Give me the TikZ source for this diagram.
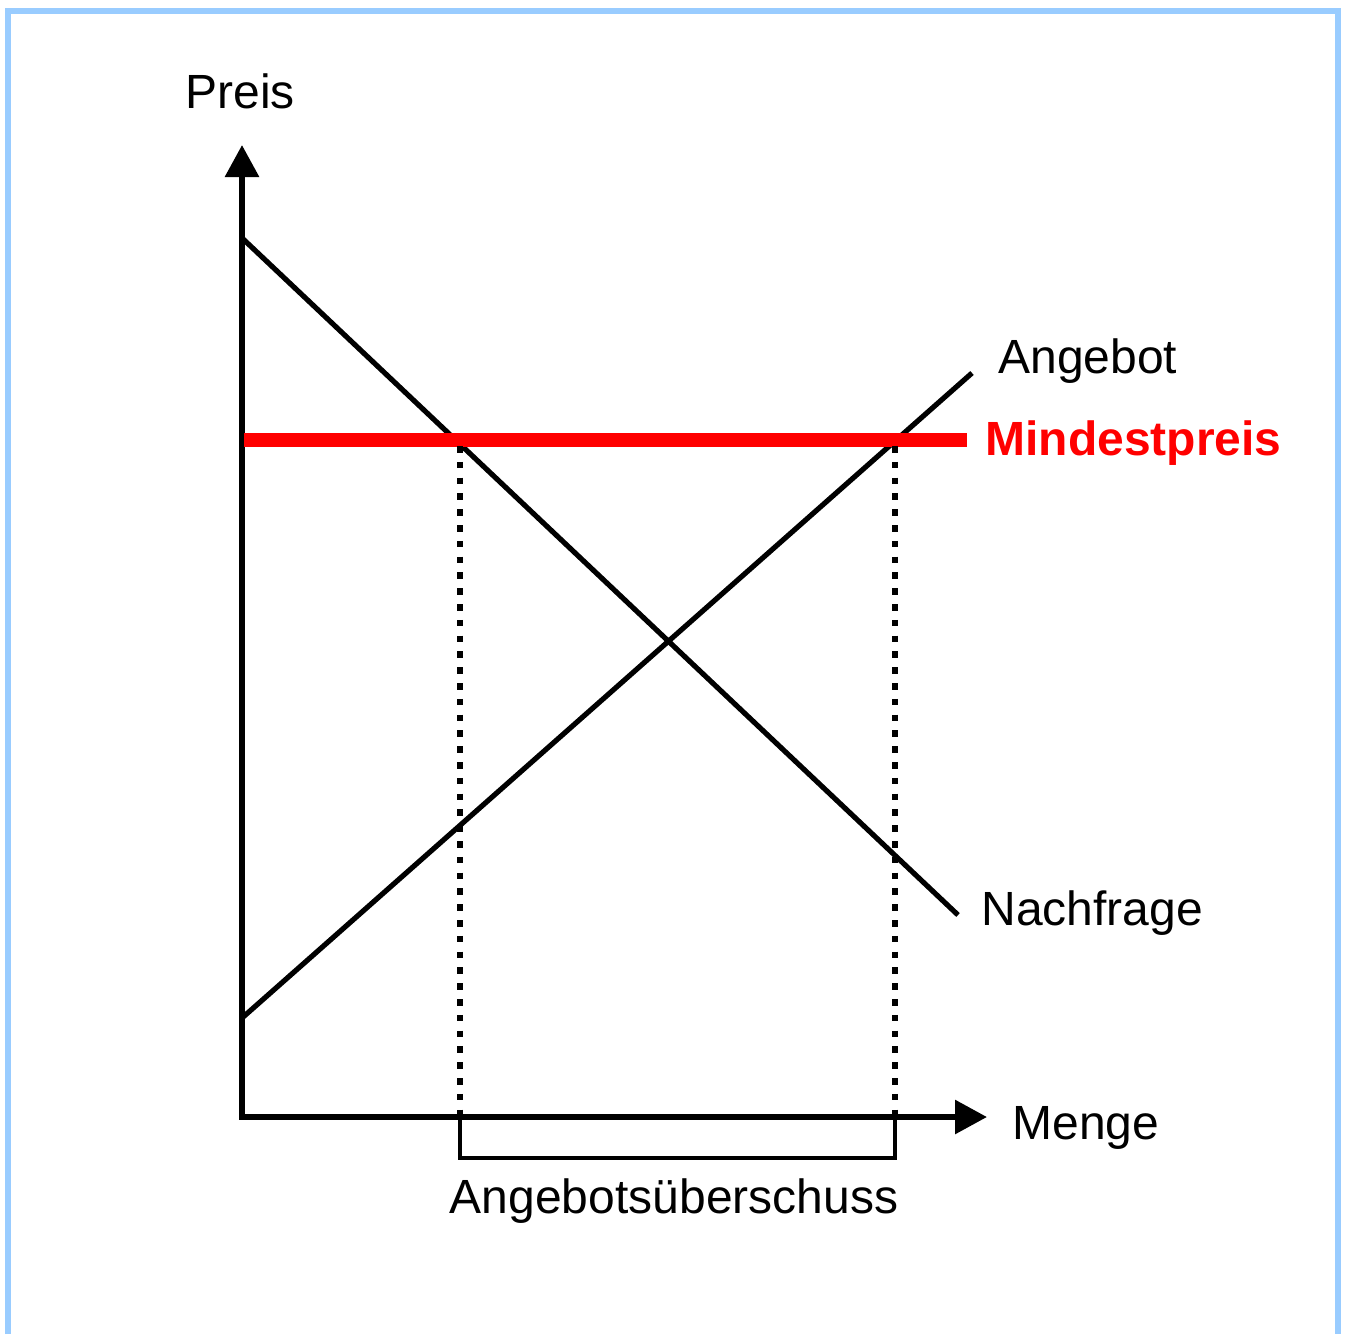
\documentclass[tikz,border=0pt]{standalone}
\usepackage{fontspec}
\setmainfont{Liberation Sans}
\usetikzlibrary{arrows.meta}
\definecolor{rahmenblau}{HTML}{99CCFF}
\definecolor{preisrot}{HTML}{FF0000}

\begin{document}
\begin{tikzpicture}[x=0.5pt, y=-0.5pt,
    achse/.style={line width=3pt,
      {Triangle[length=16pt,width=16.5pt]}-{Triangle[length=16pt,width=16.5pt]}},
    kurve/.style={line width=2.6pt},
    hilfslinie/.style={line width=3pt, dash pattern=on 3.3pt off 4.6pt},
    beschr/.style={font=\fontsize{24}{28}\selectfont, inner sep=0pt}]
  \useasboundingbox (0,0) rectangle (1348,1334);
  % Rahmen
  \draw[rahmenblau, line width=3pt] (8,1334) -- (8,11) -- (1338,11) -- (1338,1334);

  % Achsen
  \coordinate (O) at (242,1117);
  \coordinate (ytip) at (242,145);
  \coordinate (xtip) at (987,1117);
  \draw[achse] (ytip) -- (O) -- (xtip);

  % Kurven
  \coordinate (n1) at (242,238);
  \coordinate (n2) at (958,915);
  \coordinate (a1) at (242,1018);
  \coordinate (a2) at (972,373);
  \draw[kurve] (n1) -- (n2);
  \draw[kurve] (a1) -- (a2);

  % Mindestpreis
  \coordinate (m1) at (244,440);
  \coordinate (m2) at (967,440);
  \draw[preisrot, line width=7pt] (m1) -- (m2);

  % Hilfslinien und Klammer
  \coordinate (q1) at (460,446);
  \coordinate (q1u) at (460,1117);
  \coordinate (q2) at (895,446);
  \coordinate (q2u) at (895,1117);
  \draw[hilfslinie] (q1) -- (q1u);
  \draw[hilfslinie] (q2) -- (q2u);
  \draw[line width=2pt] (q1u) -- (460,1158) -- (895,1158) -- (q2u);

  % Beschriftungen
  \node[beschr, anchor=base] (preis) at (240,108) {Preis};
  \node[beschr, anchor=base west] (angebot) at (998,373) {Angebot};
  \node[beschr, anchor=base west, text=preisrot,
        font=\fontsize{24}{28}\selectfont\bfseries] (mindest) at (985,455) {Mindestpreis};
  \node[beschr, anchor=base west] (nachfrage) at (981,925) {Nachfrage};
  \node[beschr, anchor=base west] (menge) at (1012,1139) {Menge};
  \node[beschr, anchor=base] (ueberschuss) at (674,1213) {Angebotsüberschuss};
\end{tikzpicture}
\end{document}
